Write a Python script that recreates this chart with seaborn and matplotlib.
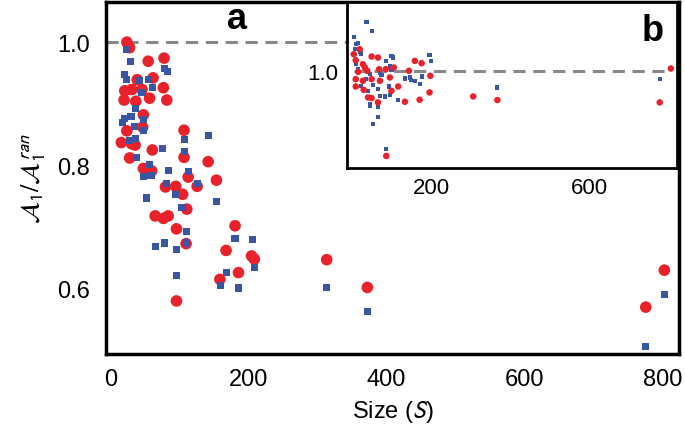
#!/usr/bin/python3

import numpy as np
import pandas as pd
import seaborn as sns
import matplotlib
matplotlib.use("Agg")
import matplotlib.pyplot as plt

# panel a : red circles (S, ratio)
red_size = [23, 27, 54, 77, 38, 61, 76, 20, 30, 45, 19, 36, 56, 81, 47, 23, 46, 106,
            15, 30, 35, 27, 60, 106, 141, 47, 59, 79, 94, 104, 112, 125, 153, 110,
            64, 76, 83, 95, 109, 158, 95, 167, 180, 204, 208, 185, 313, 372, 776, 803]
red_ratio = [1.000, 0.991, 0.969, 0.974, 0.939, 0.942, 0.926, 0.921, 0.923, 0.923,
             0.906, 0.904, 0.909, 0.906, 0.882, 0.856, 0.862, 0.857, 0.837, 0.835,
             0.833, 0.812, 0.825, 0.813, 0.806, 0.795, 0.791, 0.765, 0.766, 0.753,
             0.781, 0.766, 0.776, 0.729, 0.718, 0.714, 0.718, 0.697, 0.673, 0.615,
             0.580, 0.662, 0.702, 0.653, 0.648, 0.626, 0.647, 0.602, 0.570, 0.630]

# panel a : blue squares
blue_size = [22, 28, 19, 22, 41, 54, 77, 82, 60, 45, 36, 19, 29, 17, 34, 47, 47, 106,
             141, 27, 35, 37, 75, 106, 56, 58, 47, 83, 112, 80, 94, 125, 51, 153, 103,
             110, 109, 77, 65, 95, 95, 167, 159, 180, 205, 208, 185, 313, 372, 776, 803]
blue_ratio = [0.988, 0.968, 0.948, 0.939, 0.938, 0.940, 0.957, 0.953, 0.927, 0.918,
              0.893, 0.876, 0.880, 0.869, 0.863, 0.874, 0.857, 0.842, 0.848, 0.840,
              0.843, 0.813, 0.827, 0.822, 0.801, 0.783, 0.782, 0.791, 0.790, 0.770,
              0.752, 0.770, 0.747, 0.742, 0.732, 0.693, 0.674, 0.674, 0.668, 0.663,
              0.621, 0.626, 0.605, 0.682, 0.680, 0.635, 0.601, 0.602, 0.563, 0.506, 0.590]

# panel b (inset)
b_blue_size = [37, 50, 5, 10, 16, 8, 20, 24, 50, 100, 104, 87, 196, 199, 10, 16, 71, 75,
               97, 100, 35, 45, 134, 146, 150, 159, 176, 171, 24, 41, 66, 94, 54, 71,
               83, 96, 45, 45, 66, 117, 66, 54, 87, 306, 367, 776]
b_blue_val = [1.146, 1.119, 1.101, 1.080, 1.083, 1.065, 1.057, 1.052, 1.043, 1.045,
              1.040, 1.030, 1.047, 1.029, 1.020, 1.005, 0.995, 0.987, 1.015, 1.003,
              0.975, 0.990, 0.977, 0.980, 0.973, 0.970, 0.983, 0.960, 0.955, 0.940,
              0.945, 0.953, 0.957, 0.925, 0.923, 0.928, 0.900, 0.893, 0.890, 0.913,
              0.860, 0.839, 0.764, 0.923, 0.950, 0.975]
b_red_size = [5, 20, 10, 28, 33, 16, 39, 50, 66, 10, 28, 50, 69, 71, 86, 96, 106, 10,
              30, 41, 50, 100, 117, 66, 134, 144, 159, 176, 198, 196, 171, 87, 306,
              367, 776, 804]
b_red_val = [1.050, 1.065, 1.032, 1.020, 1.010, 0.997, 1.000, 1.043, 1.040, 0.975,
             0.970, 0.975, 1.005, 0.970, 1.005, 0.980, 1.010, 0.953, 0.943, 0.920,
             0.918, 0.940, 0.953, 0.905, 0.907, 1.000, 1.030, 1.023, 0.985, 0.935,
             0.913, 0.744, 0.923, 0.912, 0.905, 1.007]

RED = "#e8212a"
BLUE = "#3b55a5"


def main():
    sns.set_style("white")
    plt.rcParams['font.family'] = ['Liberation Sans', 'DejaVu Sans']
    plt.rcParams['mathtext.fontset'] = 'stixsans'
    plt.rcParams['text.color'] = 'black'
    plt.rcParams['axes.labelcolor'] = 'black'
    plt.rcParams['xtick.color'] = 'black'
    plt.rcParams['ytick.color'] = 'black'

    fig = plt.figure(figsize=(6.85, 4.35), dpi=100)
    ax = fig.add_axes([0.155, 0.184, 0.836, 0.809])

    ax.axhline(1.0, color="#888888", lw=2.2, ls=(0, (4, 2.5)), zorder=1)
    sns.scatterplot(x=red_size, y=red_ratio, ax=ax, color=RED, marker="o",
                    s=70, edgecolor="none", zorder=2)
    sns.scatterplot(x=blue_size, y=blue_ratio, ax=ax, color=BLUE, marker="s",
                    s=26, edgecolor="none", zorder=3)

    ax.set_xlim(-7, 824)
    ax.set_ylim(0.494, 1.065)
    ax.set_xticks([0, 200, 400, 600, 800])
    ax.set_yticks([0.6, 0.8, 1.0])
    ax.tick_params(length=0, labelsize=17, pad=10)
    ax.tick_params(axis="y", pad=12)
    ax.set_xlabel("Size ($S$)", fontsize=17, labelpad=6)
    ax.set_ylabel(r"$\mathcal{A}_1/\mathcal{A}_1^{\,ran}$", fontsize=19, labelpad=6)
    for sp in ax.spines.values():
        sp.set_linewidth(2.5)
        sp.set_color("black")
    ax.text(0.229, 0.952, "a", transform=ax.transAxes, fontsize=26,
            fontweight="bold", ha="center", va="center")

    # inset b
    ins = fig.add_axes([0.506, 0.611, 0.482, 0.382])
    ins.hlines(1.0, 5, 800, color="#888888", lw=2.2, ls=(0, (4, 2.5)), zorder=1)
    sns.scatterplot(x=b_blue_size, y=b_blue_val, ax=ins, color=BLUE, marker="s",
                    s=9, edgecolor="none", zorder=2)
    sns.scatterplot(x=b_red_size, y=b_red_val, ax=ins, color=RED, marker="o",
                    s=22, edgecolor="none", zorder=3)
    ins.set_xlim(-13, 819)
    ins.set_ylim(0.707, 1.207)
    ins.set_xticks([200, 600])
    ins.set_yticks([1.0])
    ins.set_yticklabels(["1.0"])
    ins.tick_params(length=0, labelsize=16, pad=6)
    for sp in ins.spines.values():
        sp.set_linewidth(2.0)
        sp.set_color("black")
    ins.text(0.928, 0.83, "b", transform=ins.transAxes, fontsize=26,
             fontweight="bold", ha="center", va="center")

    fig.savefig("out.png", dpi=100)


if __name__ == '__main__':
    main()
